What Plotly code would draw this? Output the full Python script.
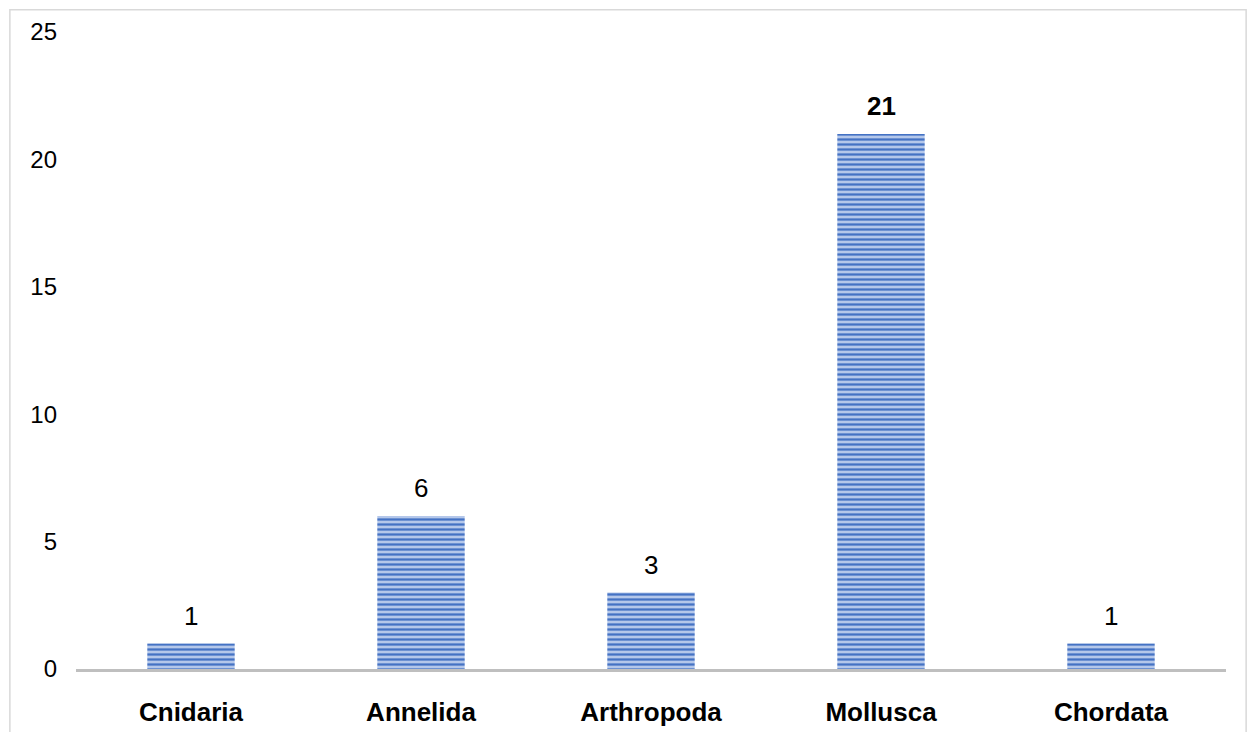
import plotly.graph_objects as go

# Phylum counts
phyla = ["Cnidaria", "Annelida", "Arthropoda", "Mollusca", "Chordata"]
counts = [1, 6, 3, 21, 1]
y_ticks = [0, 5, 10, 15, 20, 25]

FONT = "Liberation Sans, Arial"

fig = go.Figure(go.Bar(
    x=phyla,
    y=counts,
    marker=dict(
        color="#b4c7ea",
        line=dict(width=0),
        pattern=dict(shape="-", fgcolor="#4472c4", bgcolor="#b4c7ea",
                     size=5, solidity=0.45, fillmode="replace"),
    ),
    hoverinfo="x+y",
))

# value labels above bars, the largest one in bold
top = max(counts)
for name, val in zip(phyla, counts):
    fig.add_annotation(
        x=name, y=val, yanchor="bottom", yshift=11, showarrow=False,
        text=f"<b>{val}</b>" if val == top else str(val),
        font=dict(size=26, color="black", family=FONT),
    )

# light grey frame around the whole chart
fig.add_shape(type="rect", xref="paper", yref="paper",
              x0=-0.0575, x1=1.0175, y0=-0.12, y1=1.035,
              line=dict(color="#d9d9d9", width=1.5), layer="below")

# page has an 8px body margin, so the figure is shrunk and shifted to fit
fig.update_layout(
    width=1241, height=724,
    paper_bgcolor="white", plot_bgcolor="white",
    margin=dict(l=68, r=23, t=24, b=63),
    bargap=0.62,
    showlegend=False,
    font=dict(family=FONT, color="black", size=24),
)
fig.update_xaxes(
    showline=True, linecolor="#bfbfbf", linewidth=3,
    showgrid=False, ticks="", ticklabelstandoff=18, automargin=False,
    tickfont=dict(size=26, family=FONT),
    tickvals=phyla, ticktext=[f"<b>{p}</b>" for p in phyla],
)
fig.update_yaxes(
    range=[0, 25], tickvals=y_ticks, showgrid=False, zeroline=False,
    showline=False, ticks="", ticklabelstandoff=18, automargin=False,
    tickfont=dict(size=24),
)

fig.write_html("out.html")
